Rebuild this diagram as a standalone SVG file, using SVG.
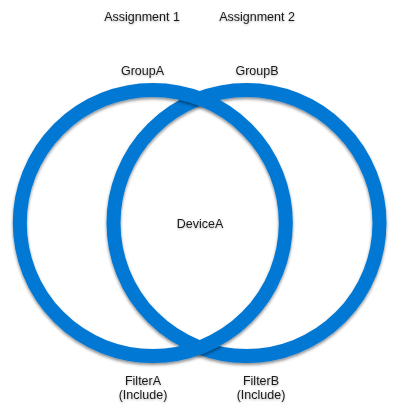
<svg xmlns="http://www.w3.org/2000/svg" width="400" height="418" viewBox="0 0 400 418">
  <defs>
    <filter id="ringShadow" x="-10%" y="-10%" width="120%" height="125%">
      <feDropShadow dx="0" dy="2" stdDeviation="1.4" flood-color="#000" flood-opacity="0.45"/>
    </filter>
    <filter id="textShadow" x="-10%" y="-30%" width="120%" height="180%">
      <feDropShadow dx="0" dy="1" stdDeviation="0.8" flood-color="#000" flood-opacity="0.3"/>
    </filter>
  </defs>
  <style>
    .ring { fill: none; stroke: #0478D4; stroke-width: 14; filter: url(#ringShadow); }
    .lbl { font-family: "Liberation Sans", Arial, sans-serif; font-size: 12.5px; fill: #1a1a1a; text-anchor: middle; filter: url(#textShadow); }
  </style>
  <rect width="400" height="418" fill="#ffffff"/>
  <g id="connectors"/>
  <g id="groupB">
    <circle class="ring" cx="246.5" cy="223" r="133"/>
  </g>
  <g id="groupA">
    <circle class="ring" cx="152.8" cy="223" r="133"/>
  </g>
  <g id="assignment1">
    <text class="lbl" x="142" y="21">Assignment 1</text>
  </g>
  <g id="assignment2">
    <text class="lbl" x="257" y="21">Assignment 2</text>
  </g>
  <g id="groupA-label">
    <text class="lbl" x="142.5" y="74.5">GroupA</text>
  </g>
  <g id="groupB-label">
    <text class="lbl" x="257" y="74.5">GroupB</text>
  </g>
  <g id="deviceA">
    <text class="lbl" x="200" y="228">DeviceA</text>
  </g>
  <g id="filterA">
    <text class="lbl" x="143" y="384.5">FilterA</text>
    <text class="lbl" x="143" y="398.5">(Include)</text>
  </g>
  <g id="filterB">
    <text class="lbl" x="261" y="384.5">FilterB</text>
    <text class="lbl" x="261" y="398.5">(Include)</text>
  </g>
</svg>
